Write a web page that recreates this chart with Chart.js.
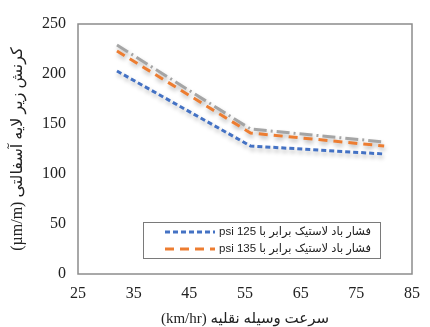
<!DOCTYPE html>
<html>
<head>
<meta charset="utf-8">
<script src="https://cdn.jsdelivr.net/npm/chart.js@4.4.1/dist/chart.umd.min.js"></script>
<style>
  body { margin: 0; background: #fff; }
  canvas { direction: rtl; }
</style>
</head>
<body>
<canvas id="myChart" width="430" height="327"></canvas>
<script>
// speed of vehicle (km/hr)
const speeds = [32, 56, 80];
// strain under asphalt layer (µm/m)
const psi125 = [203, 128, 120];
const psi135 = [223, 141, 128];
const psiGray = [229, 145, 132];

const seriesLabels = [
    'فشار باد لاستیک برابر با 125 psi',
    'فشار باد لاستیک برابر با 135 psi',
    ''
];
const xTitle = 'سرعت وسیله نقلیه (km/hr)';
const yTitle = 'کرنش زیر لایه آسفالتی (µm/m)';

const serif = "'Liberation Serif', 'DejaVu Sans', serif";
const sans = "'Liberation Sans', 'DejaVu Sans', sans-serif";

function toPoints(vals) {
    return vals.map((v, i) => ({ x: speeds[i], y: v }));
}

// soft drop shadow under the lines
const shadowPlugin = {
    id: 'shadow',
    beforeDatasetsDraw(chart) {
        const ctx = chart.ctx;
        ctx.save();
        ctx.shadowColor = 'rgba(0,0,0,0.28)';
        ctx.shadowBlur = 4;
        ctx.shadowOffsetX = 1;
        ctx.shadowOffsetY = 3;
    },
    afterDatasetsDraw(chart) {
        chart.ctx.restore();
    }
};

// frame round the plot + legend box inside it
const framePlugin = {
    id: 'frame',
    afterDraw(chart) {
        const ctx = chart.ctx;
        const a = chart.chartArea;
        ctx.save();
        ctx.strokeStyle = '#8c8c8c';
        ctx.lineWidth = 1.5;
        ctx.strokeRect(a.left, a.top, a.right - a.left, a.bottom - a.top);

        // legend
        const bx = 143, by = 222, bw = 237, bh = 36;
        ctx.fillStyle = '#fff';
        ctx.fillRect(bx, by, bw, bh);
        ctx.strokeStyle = '#7a7a7a';
        ctx.lineWidth = 1;
        ctx.strokeRect(bx + 0.5, by + 0.5, bw, bh);

        const rows = [10, 27];
        for (let i = 0; i < 2; i++) {
            const ds = chart.data.datasets[i];
            const y = by + rows[i];
            ctx.save();
            ctx.strokeStyle = ds.borderColor;
            ctx.lineWidth = ds.borderWidth;
            ctx.setLineDash(ds.borderDash);
            ctx.beginPath();
            ctx.moveTo(165, y);
            ctx.lineTo(215, y);
            ctx.stroke();
            ctx.restore();

            ctx.fillStyle = '#222';
            ctx.font = '11.5px ' + sans;
            ctx.direction = 'rtl';
            ctx.textAlign = 'left';
            ctx.textBaseline = 'middle';
            ctx.fillText(ds.label, 219, y);
        }
        ctx.restore();
    }
};

const ctx = document.getElementById('myChart').getContext('2d');
new Chart(ctx, {
    type: 'line',
    data: {
        datasets: [{
            label: seriesLabels[0],
            data: toPoints(psi125),
            borderColor: '#4472C4',
            borderWidth: 3,
            borderDash: [5, 3],
            pointRadius: 0,
            fill: false
        }, {
            label: seriesLabels[1],
            data: toPoints(psi135),
            borderColor: '#ED7D31',
            borderWidth: 3,
            borderDash: [9, 6],
            pointRadius: 0,
            fill: false
        }, {
            label: seriesLabels[2],
            data: toPoints(psiGray),
            borderColor: '#A5A5A5',
            borderWidth: 3,
            borderDash: [13, 4, 2, 4],
            pointRadius: 0,
            fill: false
        }]
    },
    options: {
        responsive: false,
        animation: false,
        layout: { padding: { top: 24, right: 10, left: 0, bottom: 0 } },
        plugins: {
            legend: { display: false },
            tooltip: { enabled: false }
        },
        scales: {
            x: {
                type: 'linear',
                min: 25,
                max: 85,
                ticks: { stepSize: 10, padding: 10, color: '#222', font: { family: serif, size: 16 } },
                grid: { display: false, drawTicks: false },
                border: { display: false },
                title: {
                    display: true,
                    text: xTitle,
                    color: '#222',
                    font: { family: serif, size: 15, lineHeight: 1 },
                    padding: { top: 0, bottom: 0 }
                },
                afterFit(scale) { scale.height = 53; }
            },
            y: {
                min: 0,
                max: 250,
                ticks: { stepSize: 50, padding: 12, color: '#222', font: { family: serif, size: 16 } },
                grid: { display: false, drawTicks: false },
                border: { display: false },
                title: {
                    display: true,
                    text: yTitle,
                    color: '#222',
                    font: { family: serif, size: 16, lineHeight: 1 },
                    padding: { top: 10, bottom: 0 }
                },
                afterFit(scale) { scale.width = 78; }
            }
        }
    },
    plugins: [shadowPlugin, framePlugin]
});
</script>
</body>
</html>
